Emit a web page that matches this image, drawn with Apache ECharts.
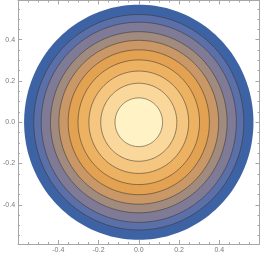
<!DOCTYPE html>
<html>
<head>
<meta charset="utf-8">
<script src="https://cdn.jsdelivr.net/npm/echarts@6/dist/echarts.min.js"></script>
<style>
html,body{margin:0;padding:0;background:#fff;}
#chart{width:262px;height:257px;}
</style>
</head>
<body>
<div id="chart"></div>
<script>
// Contour band outer radii (outer disk edge first, then each contour line inward)
const bandRadii = [0.57, 0.522, 0.485, 0.439, 0.397, 0.351, 0.302, 0.248, 0.189, 0.118];
// Fill colour of each band, outside to centre
const bandColors = ['#3e63a5', '#5b6fa9', '#7f7b97', '#a18a7e', '#c99866', '#e3a152', '#ecb262', '#f5c67f', '#fad79b', '#fff3c6'];
// Axis ticks
const majorTicks = [-0.4, -0.2, 0.0, 0.2, 0.4];
const tickLabels = ['-0.4', '-0.2', '0.0', '0.2', '0.4'];
const minorTicks = [-0.55, -0.5, -0.45, -0.35, -0.3, -0.25, -0.15, -0.1, -0.05, 0.05, 0.1, 0.15, 0.25, 0.3, 0.35, 0.45, 0.5, 0.55];
const xRange = [-0.6, 0.6];
const yRange = [-0.59, 0.59];

const frameColor = '#a6a6a6';
const labelColor = '#7a7a7a';

function labelFmt(v) {
  for (let i = 0; i < majorTicks.length; i++) {
    if (Math.abs(majorTicks[i] - v) < 1e-9) return tickLabels[i];
  }
  return '';
}

function makeAxis(dim, position, minor, withLabels) {
  const rng = dim === 'x' ? xRange : yRange;
  return {
    type: 'value',
    position: position,
    min: rng[0],
    max: rng[1],
    axisLine: { show: !minor, onZero: false, lineStyle: { color: frameColor, width: 1 } },
    axisTick: {
      show: true,
      inside: true,
      length: minor ? 2 : 4,
      customValues: minor ? minorTicks : majorTicks,
      lineStyle: { color: frameColor, width: 1 }
    },
    axisLabel: {
      show: withLabels,
      customValues: majorTicks,
      formatter: labelFmt,
      color: labelColor,
      fontSize: 7,
      fontFamily: 'Liberation Sans, Arial, sans-serif',
      margin: 3
    },
    splitLine: { show: false },
    minorTick: { show: false },
    minorSplitLine: { show: false }
  };
}

const chart = echarts.init(document.getElementById('chart'), null, { renderer: 'canvas' });

const seriesData = bandRadii.map((r, i) => [r, i]);

chart.setOption({
  animation: false,
  backgroundColor: '#ffffff',
  grid: { left: 17, right: 2.5, top: 0.5, bottom: 13, containLabel: false },
  xAxis: [
    makeAxis('x', 'bottom', false, true),
    makeAxis('x', 'bottom', true, false),
    makeAxis('x', 'top', false, false),
    makeAxis('x', 'top', true, false)
  ],
  yAxis: [
    makeAxis('y', 'left', false, true),
    makeAxis('y', 'left', true, false),
    makeAxis('y', 'right', false, false),
    makeAxis('y', 'right', true, false)
  ],
  series: [{
    type: 'custom',
    xAxisIndex: 0,
    yAxisIndex: 0,
    clip: true,
    data: seriesData,
    renderItem: function (params, api) {
      const r = api.value(0);
      const idx = api.value(1);
      const pts = [];
      const n = 180;
      for (let k = 0; k < n; k++) {
        const t = 2 * Math.PI * k / n;
        pts.push(api.coord([r * Math.cos(t), r * Math.sin(t)]));
      }
      return {
        type: 'polygon',
        shape: { points: pts },
        style: {
          fill: bandColors[idx],
          stroke: idx === 0 ? null : 'rgba(55,50,45,0.6)',
          lineWidth: idx === 0 ? 0 : 0.9
        }
      };
    }
  }]
});
</script>
</body>
</html>
